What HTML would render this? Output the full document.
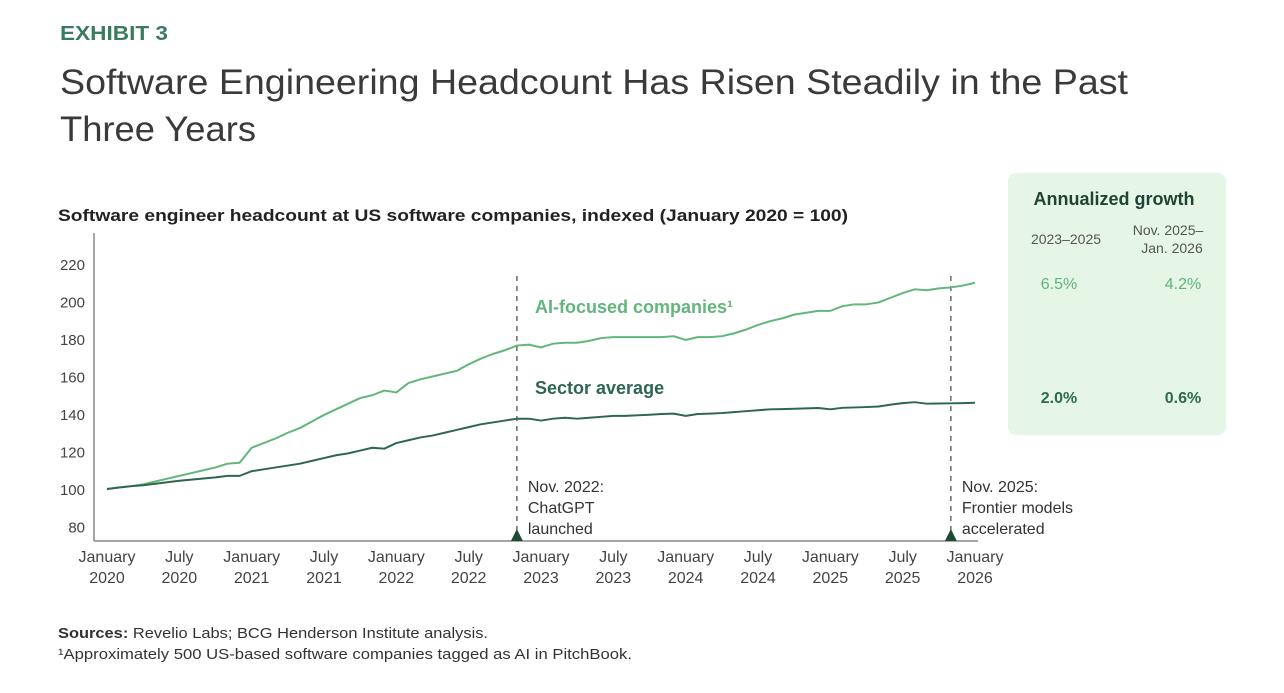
<!DOCTYPE html>
<html><head><meta charset="utf-8"><style>
body{margin:0;background:#fff;}
svg{display:block;font-family:"Liberation Sans",sans-serif;}
</style></head><body>
<svg id="c" width="1284" height="693" viewBox="0 0 1284 693">
<text x="60" y="40" font-size="20" font-weight="bold" fill="#3a7a5e" textLength="108" lengthAdjust="spacingAndGlyphs">EXHIBIT 3</text>
<text x="60" y="94" font-size="35" fill="#3a3a3a" font-weight="300" textLength="1068" lengthAdjust="spacingAndGlyphs">Software Engineering Headcount Has Risen Steadily in the Past</text>
<text x="60" y="141" font-size="35" fill="#3a3a3a" textLength="196" lengthAdjust="spacingAndGlyphs">Three Years</text>
<text x="58" y="221" font-size="17" font-weight="bold" fill="#222" textLength="790" lengthAdjust="spacingAndGlyphs">Software engineer headcount at US software companies, indexed (January 2020 = 100)</text>
<g>
<rect x="1008" y="173" width="218" height="262" rx="8" fill="#e5f6e6"/>
<text x="1114" y="205" font-size="18" font-weight="bold" fill="#1f4433" text-anchor="middle">Annualized growth</text>
<text x="1066" y="244" font-size="14" fill="#555" text-anchor="middle">2023–2025</text>
<text x="1168" y="235" font-size="14" fill="#555" text-anchor="middle">Nov. 2025–</text>
<text x="1172" y="253" font-size="14" fill="#555" text-anchor="middle">Jan. 2026</text>
<text x="1059" y="289" font-size="16" fill="#5fb27a" text-anchor="middle">6.5%</text>
<text x="1183" y="289" font-size="16" fill="#5fb27a" text-anchor="middle">4.2%</text>
<text x="1059" y="403" font-size="16" font-weight="bold" fill="#2d6a4f" text-anchor="middle">2.0%</text>
<text x="1183" y="403" font-size="16" font-weight="bold" fill="#2d6a4f" text-anchor="middle">0.6%</text>
</g>
<g id="plot"></g>
<text x="58" y="638" font-size="15" fill="#333" textLength="430" lengthAdjust="spacingAndGlyphs"><tspan font-weight="bold">Sources:</tspan> Revelio Labs; BCG Henderson Institute analysis.</text>
<text x="58" y="659" font-size="15" fill="#333" textLength="574" lengthAdjust="spacingAndGlyphs">¹Approximately 500 US-based software companies tagged as AI in PitchBook.</text>
</svg>
<script>
const aiValues=[100,100.8,101.5,102.5,104,105.5,107,108.5,110,111.5,113.5,114,
122,124.5,127,130,132.5,136,139.5,142.5,145.5,148.5,150,152.5,
151.5,156.5,158.5,160,161.5,163,166.5,169.5,172,174,176.5,177,
175.5,177.5,178,178,179,180.5,181,181,181,181,181,181.5,
179.5,181,181,181.5,183,185,187.5,189.5,191,193,194,195,
195,197.5,198.5,198.5,199.5,202,204.5,206.5,206,207,207.5,208.5,210];
const sectorValues=[100,100.8,101.5,102,102.8,103.6,104.4,105,105.6,106.2,107,107,
109.5,110.5,111.5,112.5,113.5,115,116.5,118,119,120.5,122,121.5,
124.5,126,127.5,128.5,130,131.5,133,134.5,135.5,136.5,137.5,137.5,
136.5,137.5,138,137.5,138,138.5,139,139,139.3,139.6,140,140.2,
139,140,140.2,140.5,141,141.5,142,142.5,142.6,142.8,143,143.2,
142.5,143.3,143.5,143.7,144,145,145.8,146.3,145.5,145.6,145.7,145.8,146];
const yTicks=[80,100,120,140,160,180,200,220];
const xTickMonths=[0,6,12,18,24,30,36,42,48,54,60,66,72];
const xTickTop=["January","July","January","July","January","July","January","July","January","July","January","July","January"];
const xTickBottom=["2020","2020","2021","2021","2022","2022","2023","2023","2024","2024","2025","2025","2026"];
const eventMonths=[34,70];
const eventLabels=[["Nov. 2022:","ChatGPT","launched"],["Nov. 2025:","Frontier models","accelerated"]];
const NS="http://www.w3.org/2000/svg";
const g=document.getElementById('plot');
const X=m=>107+m*(868/72);
const Y=v=>489-(v-100)*1.875;
function mk(t,a,p){const e=document.createElementNS(NS,t);for(const k in a)e.setAttribute(k,a[k]);(p||g).appendChild(e);return e;}
let e;
e=mk('line',{x1:94,y1:233,x2:94,y2:541,stroke:'#888','stroke-width':1.5});


e=mk('line',{x1:94,y1:541,x2:978,y2:541,stroke:'#888','stroke-width':1.5});


yTicks.forEach(v=>{e=mk('text',{x:85,y:Y(v)+6,'font-size':15,fill:'#444','text-anchor':'end'});e.textContent=v;

});
xTickMonths.forEach((m,i)=>{
e=mk('text',{x:X(m),y:562,'font-size':16,fill:'#444','text-anchor':'middle'});e.textContent=xTickTop[i];


e=mk('text',{x:X(m),y:583,'font-size':16,fill:'#444','text-anchor':'middle'});e.textContent=xTickBottom[i];

});
eventMonths.forEach((m,i)=>{const x=X(m);
e=mk('line',{x1:x,y1:276,x2:x,y2:536,stroke:'#444','stroke-width':1.2,'stroke-dasharray':'5,5'});


e=mk('path',{d:`M${x-6},541 L${x},529 L${x+6},541 Z`,fill:'#1f4a33'});


eventLabels[i].forEach((s,j)=>{e=mk('text',{x:x+11,y:492+j*21,'font-size':16,fill:'#333'});e.textContent=s;

});});
function line(vals,col,name){e=mk('polyline',{points:vals.map((v,i)=>X(i)+','+Y(v)).join(' '),fill:'none',stroke:col,'stroke-width':2,'stroke-linejoin':'round'});

}
line(aiValues,'#63b57e','ai-focused-line');
line(sectorValues,'#2f6650','sector-average-line');
e=mk('text',{x:535,y:313,'font-size':18,'font-weight':'bold',fill:'#63b57e'});e.textContent='AI-focused companies¹';


e=mk('text',{x:535,y:394,'font-size':18,'font-weight':'bold',fill:'#2f6650'});e.textContent='Sector average';


</script>
</body></html>
